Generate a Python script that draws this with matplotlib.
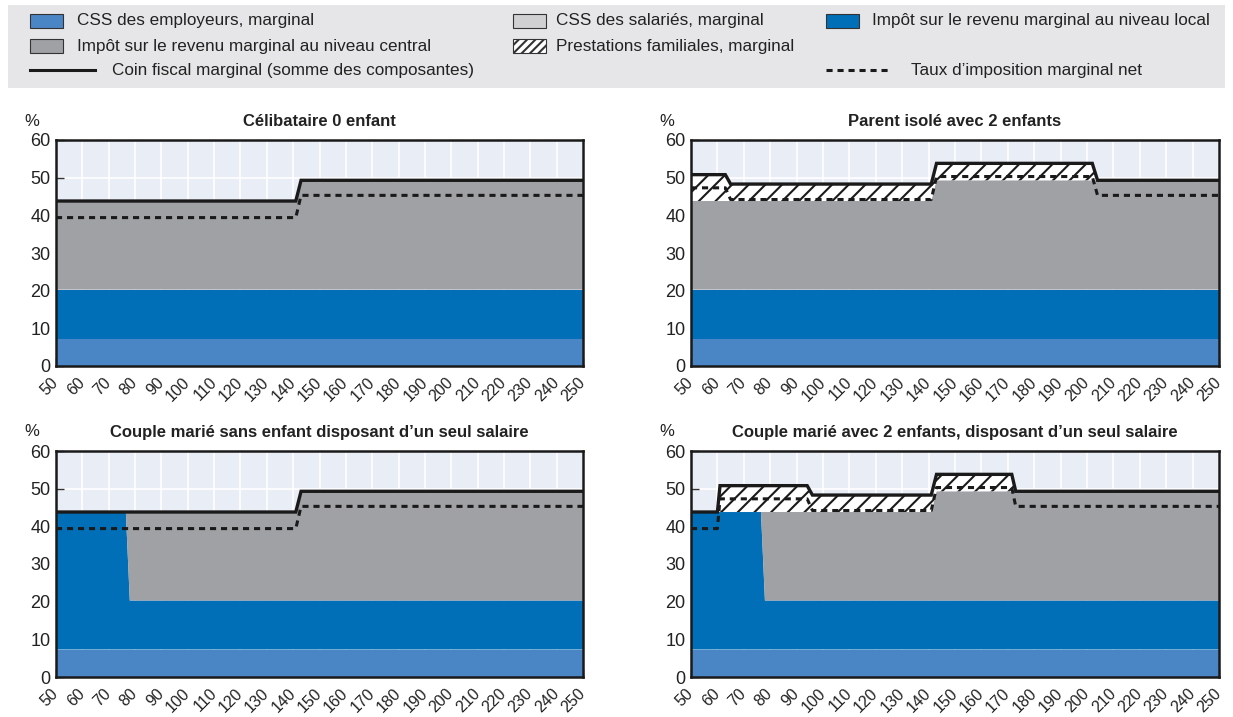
import matplotlib
matplotlib.use("Agg")
import matplotlib.pyplot as plt
from matplotlib.patches import Rectangle
from matplotlib.lines import Line2D

plt.rcParams['font.family'] = ['Liberation Sans', 'DejaVu Sans']
plt.rcParams['hatch.linewidth'] = 1.5

# ---------------- data ----------------
titles = ["Célibataire 0 enfant",
          "Parent isolé avec 2 enfants",
          "Couple marié sans enfant disposant d\u2019un seul salaire",
          "Couple marié avec 2 enfants, disposant d\u2019un seul salaire"]

# Panel 1 : Célibataire 0 enfant
x1 = [50, 141, 143, 250]
emp1 = [7.3, 7.3, 7.3, 7.3]
loc1 = [13.0, 13.0, 13.0, 13.0]
cen1 = [23.5, 23.5, 29.0, 29.0]
fam1 = [0, 0, 0, 0]
tot1 = [43.8, 43.8, 49.3, 49.3]
net1 = [39.4, 39.4, 45.3, 45.3]

# Panel 2 : Parent isolé avec 2 enfants
x2 = [50, 63, 65, 141, 143, 202, 204, 250]
emp2 = [7.3] * 8
loc2 = [13.0] * 8
cen2 = [23.5, 23.5, 23.5, 23.5, 29.0, 29.0, 29.0, 29.0]
fam2 = [7.0, 7.0, 4.5, 4.5, 4.5, 4.5, 0, 0]
tot2 = [50.8, 50.8, 48.3, 48.3, 53.8, 53.8, 49.3, 49.3]
net2 = [47.3, 47.3, 44.2, 44.2, 50.3, 50.3, 45.3, 45.3]

# Panel 3 : Couple marié sans enfant, un seul salaire
x3 = [50, 76.5, 78, 141, 143, 250]
emp3 = [7.3] * 6
loc3 = [36.5, 36.5, 13.0, 13.0, 13.0, 13.0]
cen3 = [0, 0, 23.5, 23.5, 29.0, 29.0]
fam3 = [0] * 6
tot3 = [43.8, 43.8, 43.8, 43.8, 49.3, 49.3]
net3 = [39.4, 39.4, 39.4, 39.4, 45.3, 45.3]

# Panel 4 : Couple marié avec 2 enfants, un seul salaire
x4 = [50, 60, 61, 76.5, 78, 94, 96, 141, 143, 171.5, 173, 250]
emp4 = [7.3] * 12
loc4 = [36.5, 36.5, 36.5, 36.5, 13.0, 13.0, 13.0, 13.0, 13.0, 13.0, 13.0, 13.0]
cen4 = [0, 0, 0, 0, 23.5, 23.5, 23.5, 23.5, 29.0, 29.0, 29.0, 29.0]
fam4 = [0, 0, 7.0, 7.0, 7.0, 7.0, 4.5, 4.5, 4.5, 4.5, 0, 0]
tot4 = [43.8, 43.8, 50.8, 50.8, 50.8, 50.8, 48.3, 48.3, 53.8, 53.8, 49.3, 49.3]
net4 = [39.4, 39.4, 47.3, 47.3, 47.3, 47.3, 44.2, 44.2, 50.3, 50.3, 45.3, 45.3]

panels = [(x1, emp1, loc1, cen1, fam1, tot1, net1),
          (x2, emp2, loc2, cen2, fam2, tot2, net2),
          (x3, emp3, loc3, cen3, fam3, tot3, net3),
          (x4, emp4, loc4, cen4, fam4, tot4, net4)]

x_ticks = list(range(50, 251, 10))
y_ticks = [0, 10, 20, 30, 40, 50, 60]

legend_labels = ["CSS des employeurs, marginal",
                 "CSS des salariés, marginal",
                 "Impôt sur le revenu marginal au niveau local",
                 "Impôt sur le revenu marginal au niveau central",
                 "Prestations familiales, marginal",
                 "Coin fiscal marginal (somme des composantes)",
                 "Taux d\u2019imposition marginal net"]

# ---------------- style ----------------
C_EMP = "#4a86c6"
C_EES = "#d0d0d2"
C_LOC = "#006fb8"
C_CEN = "#a0a1a5"
C_BG = "#e9edf6"
C_LEG = "#e6e6e8"
C_LINE = "#1a1a1a"
C_TXT = "#222222"

W, H = 1233, 717
fig = plt.figure(figsize=(W / 100, H / 100), dpi=100)

def fx(px):
    return px / W

def fy(py):
    return 1 - py / H

# legend background
fig.patches.append(Rectangle((fx(8), fy(88)), fx(1225) - fx(8), fy(5) - fy(88),
                             transform=fig.transFigure, facecolor=C_LEG,
                             edgecolor="none", zorder=0))

def leg_patch(x, y, color, hatch=None):
    fig.patches.append(Rectangle((fx(x), fy(y + 7)), fx(33), 14 / H,
                                 transform=fig.transFigure, facecolor=color,
                                 edgecolor="#333333", linewidth=0.8,
                                 hatch=hatch, zorder=2))

LFS = 12.3
def leg_text(x, y, s):
    fig.text(fx(x), fy(y), s, fontsize=LFS, va="center", ha="left", color=C_TXT)

leg_patch(30, 21, C_EMP)
leg_text(77, 21, legend_labels[0])
leg_patch(513, 21, C_EES)
leg_text(556, 21, legend_labels[1])
leg_patch(826, 21, C_LOC)
leg_text(872, 21, legend_labels[2])
leg_patch(30, 46, C_CEN)
leg_text(77, 46, legend_labels[3])
leg_patch(513, 46, "white", hatch="////")
leg_text(556, 46, legend_labels[4])
fig.lines.append(Line2D([fx(30), fx(95)], [fy(70), fy(70)], transform=fig.transFigure,
                        color=C_LINE, linewidth=2.2))
leg_text(112, 70, legend_labels[5])
fig.lines.append(Line2D([fx(826), fx(889)], [fy(70), fy(70)], transform=fig.transFigure,
                        color=C_LINE, linewidth=2.2, dashes=(2.0, 1.6)))
leg_text(911, 70, legend_labels[6])

# axes positions (pixels): left, right, top, bottom
boxes = [(56, 583, 140, 366), (691, 1219, 140, 366),
         (56, 583, 451, 677), (691, 1219, 451, 677)]

for (l, r, t, b), title, (x, emp, loc, cen, fam, tot, net) in zip(boxes, titles, panels):
    ax = fig.add_axes([fx(l), fy(b), (r - l) / W, (b - t) / H])
    ax.set_facecolor(C_BG)
    ax.set_xlim(50, 250)
    ax.set_ylim(0, 60)
    ax.set_xticks(x_ticks)
    ax.set_yticks(y_ticks)
    ax.grid(True, color="white", linewidth=1.2, zorder=0)
    ax.set_axisbelow(True)

    s1 = [e for e in emp]
    s2 = [a + c for a, c in zip(s1, loc)]
    s3 = [a + c for a, c in zip(s2, cen)]
    s4 = [a + c for a, c in zip(s3, fam)]
    ax.fill_between(x, 0, s1, facecolor=C_EMP, edgecolor="none", zorder=1)
    ax.fill_between(x, s1, s2, facecolor=C_LOC, edgecolor="none", zorder=1)
    ax.fill_between(x, s2, s3, facecolor=C_CEN, edgecolor="none", zorder=1)
    ax.fill_between(x, s3, s4, facecolor="white", edgecolor=C_LINE, hatch="//",
                    linewidth=0, zorder=1)
    ax.plot(x, net, color=C_LINE, linewidth=2.2, dashes=(2.0, 1.6), zorder=3)
    ax.plot(x, tot, color=C_LINE, linewidth=2.4, zorder=4,
            solid_joinstyle="miter")

    for side in ["left", "right", "top", "bottom"]:
        ax.spines[side].set_color(C_LINE)
        ax.spines[side].set_linewidth(1.8)
        ax.spines[side].set_zorder(5)

    ax.tick_params(axis="x", direction="in", length=6, width=1.0, color="#333333",
                   labelsize=11.5, pad=10)
    ax.tick_params(axis="y", direction="in", length=6, width=1.0, color="#333333",
                   labelsize=13, pad=4)
    ax.set_xticklabels([str(v) for v in x_ticks], rotation=45, ha="right",
                       va="center", rotation_mode="anchor")
    for lab in ax.get_xticklabels():
        lab.set_color(C_TXT)
    for lab in ax.get_yticklabels():
        lab.set_color(C_TXT)

    fig.text((fx(l) + fx(r)) / 2, fy(t - 19), title, fontsize=12, fontweight="bold",
             ha="center", va="center", color=C_TXT)
    fig.text(fx(l - 24), fy(t - 19), "%", fontsize=12, ha="center", va="center",
             color=C_TXT)

fig.savefig("out.png", dpi=100)
